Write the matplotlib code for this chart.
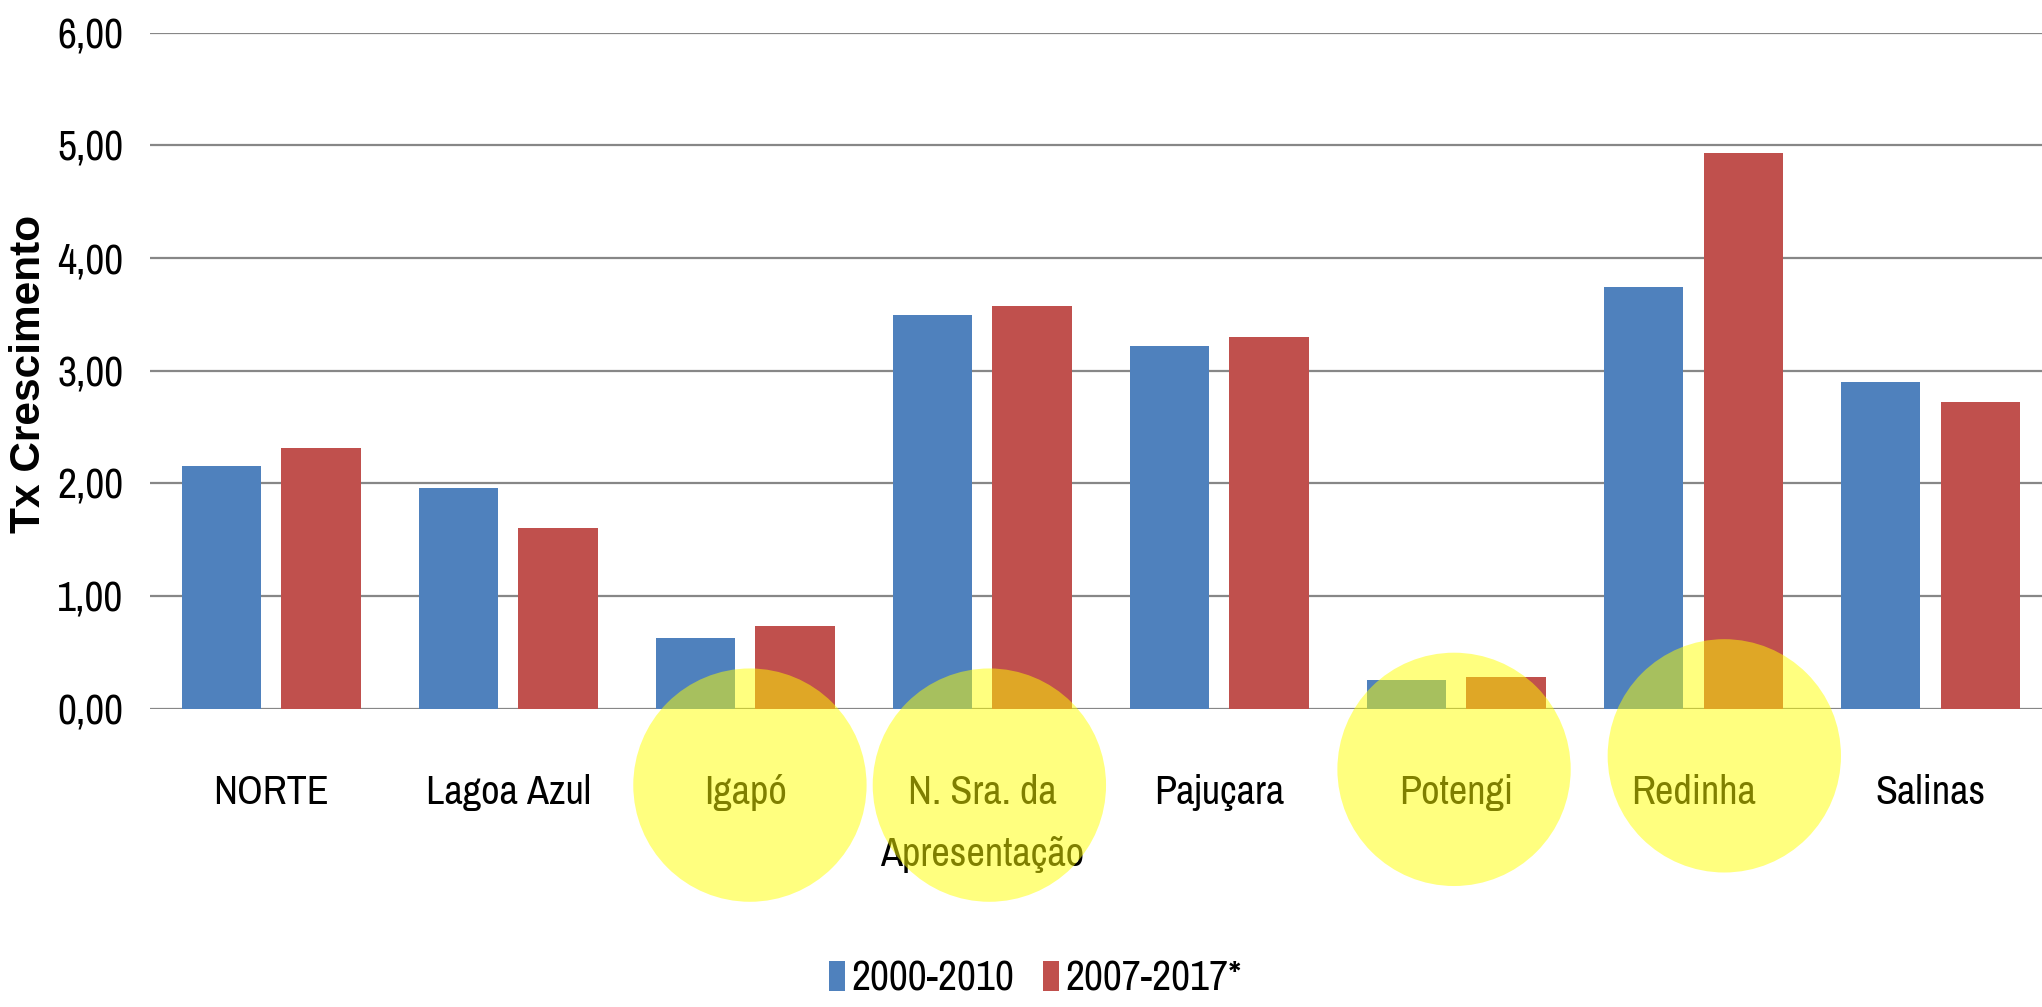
import matplotlib
matplotlib.use('Agg')
import matplotlib.pyplot as plt
from matplotlib import font_manager
import numpy as np

categories = ['NORTE', 'Lagoa Azul', 'Igapó', 'N. Sra. da\nApresentação',
              'Pajuçara', 'Potengi', 'Redinha', 'Salinas']
serie_2000_2010 = [2.15, 1.96, 0.63, 3.49, 3.22, 0.25, 3.74, 2.90]
serie_2007_2017 = [2.31, 1.60, 0.73, 3.57, 3.30, 0.28, 4.93, 2.72]
series_labels = ['2000-2010', '2007-2017*']
yticks = [0, 1, 2, 3, 4, 5, 6]
ytick_labels = ['0,00', '1,00', '2,00', '3,00', '4,00', '5,00', '6,00']

# yellow highlight circles drawn over some categories (index, x shift, y)
destaque_idx = [2, 3, 5, 6]
destaque_dx = [0.02, 0.03, -0.01, 0.13]
destaque_y = [-0.68, -0.68, -0.54, -0.42]

names = {f.name for f in font_manager.fontManager.ttflist}
narrow = 'Liberation Sans'
for cand in ['Archivo Narrow', 'Liberation Sans Narrow', 'Barlow Semi Condensed']:
    if cand in names:
        narrow = cand
        break

azul = '#4F81BD'
vermelho = '#C0504D'

fig = plt.figure(figsize=(20.42, 10.07), dpi=100)
ax = fig.add_axes([0.0734, 0.2964, 1 - 0.0734, 0.9676 - 0.2964])

x = np.arange(len(categories))
w = 0.335
ax.bar(x - 0.21, serie_2000_2010, w, color=azul, label=series_labels[0], zorder=2)
ax.bar(x + 0.21, serie_2007_2017, w, color=vermelho, label=series_labels[1], zorder=2)

ax.set_xlim(-0.511, 7.47)
ax.set_ylim(0, 6)
ax.set_yticks(yticks)
ax.set_yticklabels(ytick_labels, fontfamily=narrow, fontsize=30)
ax.set_xticks(x)
ax.set_xticklabels(categories, fontfamily=narrow, fontsize=29, linespacing=1.85)
ax.tick_params(axis='y', length=0, pad=19)
ax.tick_params(axis='x', length=0, pad=47)

ax.grid(axis='y', color='#878787', linewidth=1.6)
ax.set_axisbelow(True)
for s in ax.spines.values():
    s.set_visible(False)

ax.scatter(x[destaque_idx] + np.array(destaque_dx), destaque_y, s=168 ** 2,
           color='#FFFF00', alpha=0.5, edgecolors='none', clip_on=False, zorder=5)

fig.text(29 / 2042, 1 - 374 / 1007, 'Tx Crescimento', rotation=90, ha='center',
         va='center', fontsize=30.5, fontweight='bold', fontfamily='Liberation Sans')

fig.legend(loc='center', bbox_to_anchor=(0.507, 0.028), ncol=2, frameon=False,
           prop={'family': narrow, 'size': 30}, handlelength=0.38, handleheight=0.74,
           handletextpad=0.15, columnspacing=0.7)

fig.savefig('out.png', dpi=100)
